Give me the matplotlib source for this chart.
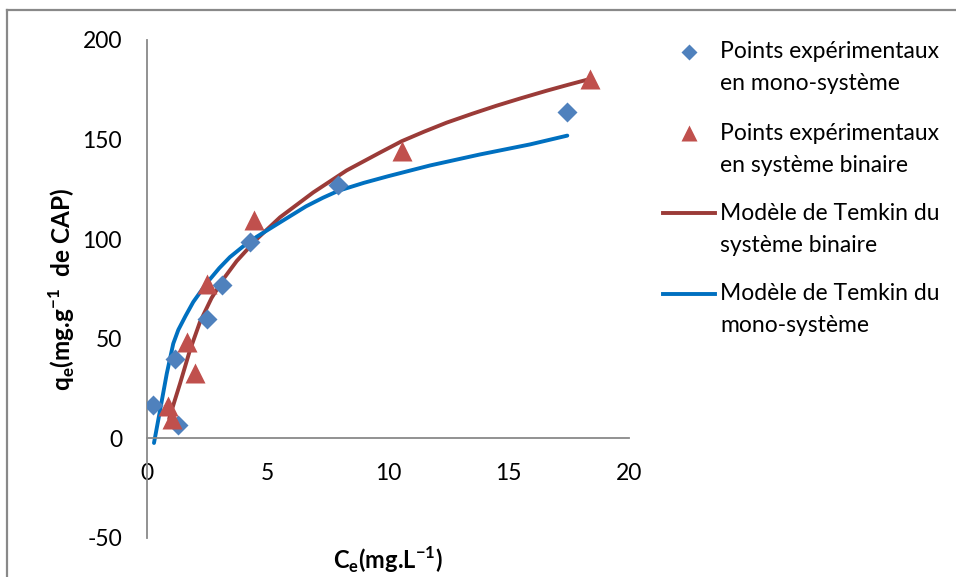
import matplotlib
matplotlib.use("Agg")
import matplotlib.pyplot as plt
from matplotlib.lines import Line2D

# ---------------- data ----------------
mono_ce = [0.24, 1.18, 1.30, 2.47, 3.10, 4.27, 7.94, 17.41]
mono_qe = [16.6, 40.0, 6.8, 60.0, 77.0, 98.6, 127.0, 164.0]

bin_ce = [0.88, 1.02, 1.66, 1.99, 2.48, 4.44, 10.57, 18.38]
bin_qe = [16.3, 9.8, 48.4, 33.0, 77.7, 109.5, 144.5, 180.5]

# Temkin model curves
temkin_mono_ce = [0.29, 0.54, 0.82, 1.09, 1.30, 1.60, 1.92, 2.48, 3.00, 3.44,
                  4.00, 4.55, 5.66, 6.60, 7.30, 7.94, 9.00, 10.00, 11.74,
                  13.80, 15.90, 17.44]
temkin_mono_qe = [-2.3, 14.0, 32.5, 47.6, 54.5, 61.5, 68.5, 78.0, 85.5, 91.0,
                  96.5, 101.2, 109.5, 116.5, 120.8, 124.3, 128.3, 131.6, 137.0,
                  142.5, 147.6, 152.0]

temkin_bin_ce = [0.92, 1.15, 1.37, 1.78, 2.20, 2.68, 3.20, 3.72, 4.55, 5.52,
                 6.90, 8.28, 9.67, 10.57, 11.50, 12.43, 13.50, 14.50, 15.50,
                 16.60, 17.50, 18.40]
temkin_bin_qe = [9.9, 19.0, 27.5, 44.2, 58.5, 70.5, 80.5, 89.0, 100.0, 111.0,
                 123.5, 134.5, 143.5, 149.2, 154.0, 158.5, 163.0, 167.0, 170.7,
                 174.6, 177.6, 180.5]

x_ticks = [0, 5, 10, 15, 20]
y_ticks = [-50, 0, 50, 100, 150, 200]

legend_labels = ["Points expérimentaux\nen mono-système",
                 "Points expérimentaux\nen système binaire",
                 "Modèle de Temkin du\nsystème binaire",
                 "Modèle de Temkin du\nmono-système"]

# ---------------- style ----------------
plt.rcParams['font.family'] = ['Lato', 'DejaVu Sans']
plt.rcParams['axes.unicode_minus'] = False

C_DIAM = '#4F81BD'
C_TRI = '#C0504D'
C_RED_LINE = '#9B3B38'
C_BLUE_LINE = '#0070C0'
GRAY = '#898989'
FS = 16.5

W, H = 956, 577
fig = plt.figure(figsize=(W / 100, H / 100), dpi=100)

def fx(px):
    return px / W

def fy(py):
    return 1 - py / H

ax = fig.add_axes([fx(147), fy(538), fx(629) - fx(147), fy(40) - fy(538)])
ax.set_xlim(0, 20)
ax.set_ylim(-50, 200)

ax.plot(temkin_bin_ce, temkin_bin_qe, color=C_RED_LINE, lw=2.8,
        solid_capstyle='round', solid_joinstyle='round', zorder=2)
ax.plot(temkin_mono_ce, temkin_mono_qe, color=C_BLUE_LINE, lw=2.8,
        solid_capstyle='round', solid_joinstyle='round', zorder=2)
ax.plot(mono_ce, mono_qe, linestyle='none', marker='D', ms=10,
        color=C_DIAM, mec='none', zorder=3)
ax.plot(bin_ce, bin_qe, linestyle='none', marker='^', ms=15,
        color=C_TRI, mec='none', zorder=3)

for s in ['top', 'right']:
    ax.spines[s].set_visible(False)
ax.spines['left'].set_position(('data', 0))
ax.spines['bottom'].set_position(('data', 0))
for s in ['left', 'bottom']:
    ax.spines[s].set_color(GRAY)
    ax.spines[s].set_linewidth(1.3)

ax.set_xticks(x_ticks)
ax.set_yticks(y_ticks)
ax.tick_params(axis='both', length=0, labelsize=FS, colors='black')
ax.tick_params(axis='y', pad=18)
ax.tick_params(axis='x', pad=18)
ax.patch.set_alpha(0)

# axis titles
fig.text(fx(62), fy(290), r'q$_\mathregular{e}$(mg.g$^\mathregular{-1}$  de CAP)',
         rotation=90, ha='center', va='center', fontsize=17.5, fontweight='bold')
fig.text(fx(388), fy(560), r'C$_\mathregular{e}$(mg.L$^\mathregular{-1}$)',
         ha='center', va='center', fontsize=17, fontweight='bold')

# legend (drawn in Excel layout: symbol aligned with the first text line)
handles = [
    Line2D([], [], linestyle='none', marker='D', ms=8.5, color=C_DIAM, mec='none'),
    Line2D([], [], linestyle='none', marker='^', ms=12, color=C_TRI, mec='none'),
    Line2D([], [], color=C_RED_LINE, lw=2.8),
    Line2D([], [], color=C_BLUE_LINE, lw=2.8),
]
first_line_y = [52, 133, 213, 294]
for i, (h, lab) in enumerate(zip(handles, legend_labels)):
    y = first_line_y[i]
    if h.get_marker() not in (None, 'None', ''):
        fig.add_artist(Line2D([fx(689)], [fy(y)], transform=fig.transFigure,
                              linestyle='none', marker=h.get_marker(),
                              ms=h.get_markersize(), color=h.get_color(),
                              mec='none'))
    else:
        fig.add_artist(Line2D([fx(663), fx(715)], [fy(y), fy(y)],
                              transform=fig.transFigure, color=h.get_color(),
                              lw=h.get_linewidth()))
    l1, l2 = lab.split('\n')
    fig.text(fx(720), fy(y), l1, ha='left', va='center', fontsize=FS)
    fig.text(fx(720), fy(y + 32), l2, ha='left', va='center', fontsize=FS)

# outer chart frame (top and left edges visible)
fig.add_artist(Line2D([fx(7), fx(W)], [fy(10), fy(10)], transform=fig.transFigure,
                      color=GRAY, lw=1.6))
fig.add_artist(Line2D([fx(7), fx(7)], [fy(10), fy(H)], transform=fig.transFigure,
                      color=GRAY, lw=1.6))

fig.savefig('out.png', dpi=100)
